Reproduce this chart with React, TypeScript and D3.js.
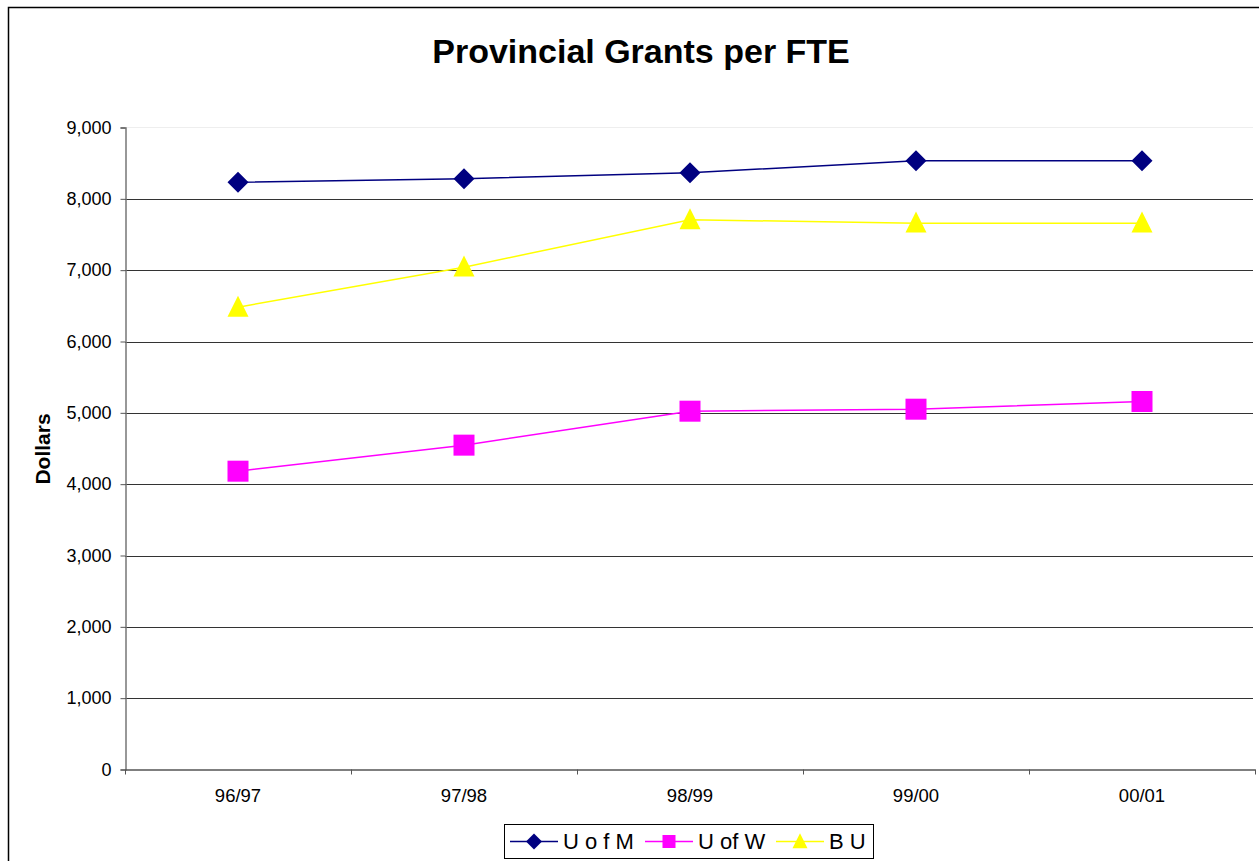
import React, { useRef, useEffect } from "react";
import * as d3 from "d3";

const categories = ["96/97", "97/98", "98/99", "99/00", "00/01"];
const uOfM = [8233, 8281, 8365, 8533, 8533];
const uOfW = [4182, 4547, 5023, 5051, 5159];
const bU = [6481, 7042, 7706, 7659, 7659];
const yTicks = [0, 1000, 2000, 3000, 4000, 5000, 6000, 7000, 8000, 9000];

const series = [
  { name: "U o f M", values: uOfM, color: "#000080", shape: "diamond" },
  { name: "U of W", values: uOfW, color: "#FF00FF", shape: "square" },
  { name: "B U", values: bU, color: "#FFFF00", shape: "triangle" },
];

function App() {
  const svgRef = useRef<SVGSVGElement | null>(null);

  useEffect(() => {
    const svg = d3.select(svgRef.current);
    svg.selectAll("*").remove();
    const width = 1259;
    const height = 861;
    const left = 125, right = 1255, top = 127.5, bottom = 769.5;
    const font = "Liberation Sans, Arial, sans-serif";

    // chart frame
    svg.append("rect").attr("x", 8.5).attr("y", 7.5).attr("width", width + 20).attr("height", height + 20)
      .attr("fill", "white").attr("stroke", "#000").attr("stroke-width", 1.5);

    const x = d3.scaleBand().domain(categories).range([left, right]);
    const y = d3.scaleLinear().domain([0, 9000]).range([bottom, top]);

    // plot area top border (faint)
    svg.append("line").attr("x1", left).attr("x2", 1253).attr("y1", top).attr("y2", top)
      .attr("stroke", "#eeeeee").attr("stroke-width", 1);

    // gridlines
    svg.append("g").selectAll("line").data(yTicks.filter((t) => t > 0 && t < 9000)).enter()
      .append("line")
      .attr("x1", left).attr("x2", 1253)
      .attr("y1", (d) => Math.round(y(d)) + 0.5).attr("y2", (d) => Math.round(y(d)) + 0.5)
      .attr("stroke", "#333").attr("stroke-width", 1);

    // y axis
    const yAxis = svg.append("g").attr("transform", `translate(${left + 0.5},0)`)
      .call(d3.axisLeft(y).tickValues(yTicks).tickSize(5).tickPadding(9).tickFormat((d) => d3.format(",")(d as number)));
    yAxis.select(".domain").attr("stroke", "#777").attr("stroke-width", 1.5);
    yAxis.selectAll(".tick line").attr("stroke", "#555");
    yAxis.selectAll("text").attr("font-family", font).attr("font-size", 18).attr("fill", "#000");

    // x axis
    const xAxis = svg.append("g").attr("transform", `translate(0,${bottom})`)
      .call(d3.axisBottom(x).tickSize(0).tickPadding(19));
    xAxis.select(".domain").attr("stroke", "#555").attr("stroke-width", 1.5);
    xAxis.selectAll("text").attr("font-family", font).attr("font-size", 18.5).attr("fill", "#000");
    svg.append("g").selectAll("line").data(d3.range(categories.length + 1)).enter()
      .append("line")
      .attr("x1", (i) => left + i * x.bandwidth() + 0.5).attr("x2", (i) => left + i * x.bandwidth() + 0.5)
      .attr("y1", bottom).attr("y2", bottom + 5)
      .attr("stroke", "#555");

    const cx = (i: number) => (x(categories[i]) as number) + x.bandwidth() / 2;

    const marker = (g: any, shape: string, color: string, px: number, py: number, s: number) => {
      if (shape === "diamond") {
        g.append("path").attr("d", `M${px},${py - s}L${px + s},${py}L${px},${py + s}L${px - s},${py}Z`).attr("fill", color);
      } else if (shape === "square") {
        g.append("rect").attr("x", px - s).attr("y", py - s).attr("width", 2 * s).attr("height", 2 * s).attr("fill", color);
      } else {
        g.append("path").attr("d", `M${px},${py - s * 1.1}L${px + s},${py + s * 0.9}L${px - s},${py + s * 0.9}Z`).attr("fill", color);
      }
    };

    const line = d3.line<number>().x((_, i) => cx(i)).y((d) => y(d));

    series.forEach((s) => {
      const g = svg.append("g");
      g.append("path").attr("d", line(s.values)).attr("fill", "none")
        .attr("stroke", s.color).attr("stroke-width", 1.5);
      s.values.forEach((v, i) => marker(g, s.shape, s.color, cx(i), y(v), 10.5));
    });

    // title
    svg.append("text").attr("x", 641).attr("y", 63).attr("text-anchor", "middle")
      .attr("font-family", font).attr("font-weight", "bold").attr("font-size", 34).text("Provincial Grants per FTE");

    // y label
    svg.append("text").attr("transform", "translate(49.5,449) rotate(-90)").attr("text-anchor", "middle")
      .attr("font-family", font).attr("font-weight", "bold").attr("font-size", 21).text("Dollars");

    // legend
    const lg = svg.append("g");
    lg.append("rect").attr("x", 504.5).attr("y", 824.5).attr("width", 369).attr("height", 34)
      .attr("fill", "white").attr("stroke", "#000").attr("stroke-width", 1);
    const lx = [510, 645, 776];
    const ms = [8, 6.5, 7.5];
    series.forEach((s, i) => {
      const ly = 841.5;
      lg.append("line").attr("x1", lx[i]).attr("x2", lx[i] + 48).attr("y1", ly).attr("y2", ly)
        .attr("stroke", s.color).attr("stroke-width", 1.5);
      marker(lg, s.shape, s.color, lx[i] + 24, ly, ms[i]);
      lg.append("text").attr("x", lx[i] + 53).attr("y", 849).attr("font-family", font)
        .attr("font-size", 22).text(s.name);
    });
  }, []);

  return (
    <svg ref={svgRef} width={1259} height={861}
      style={{ position: "absolute", left: 0, top: 0, display: "block" }} />
  );
}

export default App;
